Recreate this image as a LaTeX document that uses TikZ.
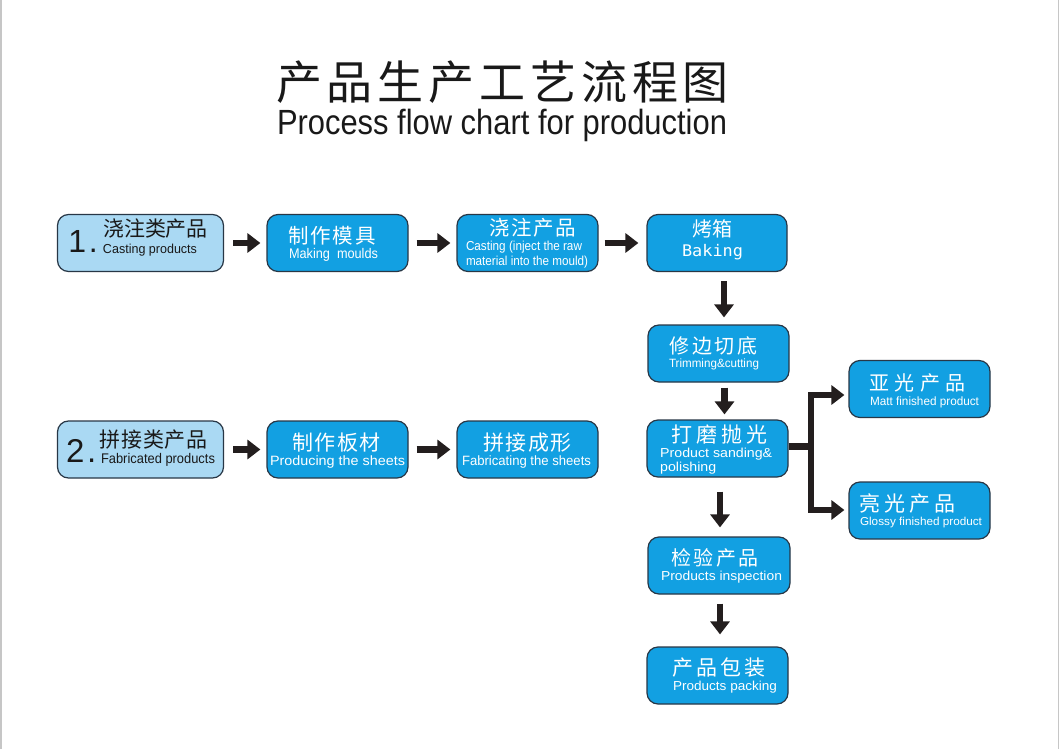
\documentclass[tikz,border=0pt]{standalone}
\usepackage{fontspec}
\usepackage{graphicx}
\usetikzlibrary{arrows.meta}
\newfontfamily\cjk{Noto Sans CJK SC}
\newfontfamily\ar{Liberation Sans}
\newfontfamily\mo{DejaVu Sans Mono}
\definecolor{boxblue}{RGB}{18,160,226}
\definecolor{lightblue}{RGB}{170,217,243}
\definecolor{edge}{RGB}{40,55,70}
\definecolor{arrowc}{RGB}{35,30,30}
\definecolor{ink}{RGB}{25,25,25}
\newcommand\g{\hskip 0pt plus 1fil minus 1fil}
\newcommand\zh[3]{\makebox[#1][s]{\cjk\fontsize{#2}{#2}\selectfont #3}}
\newcommand\en[3]{\resizebox{#1}{\height}{\ar\fontsize{#2}{#2}\selectfont #3}}
\begin{document}
\begin{tikzpicture}[x=1pt,y=-1pt,
 box/.style={draw=edge, line width=1.2pt, rounded corners=11pt, fill=boxblue, minimum width=141pt, minimum height=57pt, inner sep=0pt},
 lbox/.style={box, fill=lightblue, minimum width=166pt},
 txt/.style={inner sep=0pt, anchor=base, text=white},
 dtxt/.style={txt, text=ink},
 arr/.style={draw=arrowc, line width=6.5pt, -{Triangle[length=13pt,width=19pt]}},
 shaft/.style={draw=arrowc, line width=6.5pt}]
\useasboundingbox (0,0) rectangle (1060,749);
\fill[white] (0,0) rectangle (1060,749);
\draw[gray!45, line width=1.5pt] (0.75,0) -- (0.75,749);
\draw[gray!45, line width=1.5pt] (1058.5,0) -- (1058.5,749);

% titles
\node[dtxt] (title) at (502.5,99.8) {\zh{452.7pt}{46}{产\g 品\g 生\g 产\g 工\g 艺\g 流\g 程\g 图}};
\node[dtxt] (subtitle) at (502,135) {\en{450pt}{35}{Process flow chart for production}};

% boxes
\node[lbox] (c1) at (140.5,243) {};
\node[box] (c2) at (337.5,243) {};
\node[box] (c3) at (527.5,243) {};
\node[box, minimum width=140pt] (c4) at (717,243) {};
\node[box] (trim) at (718.5,353.5) {};
\node[box] (sand) at (717.5,448.5) {};
\node[box, minimum width=142pt] (insp) at (719,565.5) {};
\node[box] (pack) at (717.5,675.5) {};
\node[box] (matt) at (919.5,389) {};
\node[box] (glos) at (919.5,510.5) {};
\node[lbox] (f1) at (140.5,449.5) {};
\node[box] (f2) at (337.5,449.5) {};
\node[box] (f3) at (527.5,449.5) {};

% row 1 texts
\node[dtxt, anchor=base west] (c1n) at (68.2,252.5) {\ar\fontsize{32}{32}\selectfont 1\kern2.7pt.};
\node[dtxt] (c1a) at (155.5,236.5) {\zh{104.7pt}{21}{浇\g 注\g 类\g 产\g 品}};
\node[dtxt] (c1b) at (150,253.3) {\en{94pt}{13}{Casting products}};
\node[txt] (c2a) at (332,243.8) {\zh{87.7pt}{20.5}{制\g 作\g 模\g 具}};
\node[txt] (c2b) at (333.5,258.3) {\en{89pt}{14}{Making~ moulds}};
\node[txt] (c3a) at (532.5,235.5) {\zh{86.7pt}{20.5}{浇\g 注\g 产\g 品}};
\node[txt] (c3b) at (524,250.8) {\en{116pt}{13}{Casting (inject the raw}};
\node[txt] (c3c) at (527,265) {\en{122pt}{13}{material into the mould)}};
\node[txt] (c4a) at (712.5,236.6) {\zh{40.6pt}{20}{烤\g 箱}};
\node[txt] (c4b) at (712.5,256) {\resizebox{61pt}{\height}{\mo\fontsize{16}{16}\selectfont Baking}};

% column texts
\node[txt] (trima) at (713.5,353.6) {\zh{88.6pt}{20}{修\g 边\g 切\g 底}};
\node[txt] (trimb) at (714,367.6) {\en{90pt}{12}{Trimming\&cutting}};
\node[txt] (sanda) at (719.5,442.5) {\zh{96.7pt}{21}{打\g 磨\g 抛\g 光}};
\node[txt, anchor=base west] (sandb) at (660,457.5) {\en{112pt}{13}{Product sanding\&}};
\node[txt, anchor=base west] (sandc) at (660,471.5) {\en{56pt}{13}{polishing}};
\node[txt] (inspa) at (715,565.6) {\zh{87.6pt}{20}{检\g 验\g 产\g 品}};
\node[txt] (inspb) at (721.5,580) {\en{121pt}{13}{Products inspection}};
\node[txt] (packa) at (719,675.5) {\zh{93.7pt}{21}{产\g 品\g 包\g 装}};
\node[txt] (packb) at (725,690) {\en{104pt}{13}{Products packing}};
\node[txt] (matta) at (917.5,390.6) {\zh{96.6pt}{20}{亚\g 光\g 产\g 品}};
\node[txt] (mattb) at (924.5,405.5) {\en{109pt}{12}{Matt finished product}};
\node[txt] (glosa) at (907.5,511.5) {\zh{96.7pt}{21}{亮\g 光\g 产\g 品}};
\node[txt] (glosb) at (921,525.5) {\en{122pt}{11.5}{Glossy finished product}};

% row 2 texts
\node[dtxt, anchor=base west] (f1n) at (66,462) {\ar\fontsize{33}{33}\selectfont 2\kern2.7pt.};
\node[dtxt] (f1a) at (153.7,447.5) {\zh{107.7pt}{21}{拼\g 接\g 类\g 产\g 品}};
\node[dtxt] (f1b) at (158,463.7) {\en{114pt}{14}{Fabricated products}};
\node[txt] (f2a) at (336.5,450.5) {\zh{88.7pt}{21}{制\g 作\g 板\g 材}};
\node[txt] (f2b) at (337.5,465) {\en{135pt}{13.5}{Producing the sheets}};
\node[txt] (f3a) at (527.5,450.5) {\zh{88.7pt}{21}{拼\g 接\g 成\g 形}};
\node[txt] (f3b) at (526.5,465) {\en{129pt}{13.5}{Fabricating the sheets}};

% arrows row 1
\draw[arr, shorten <=9pt, shorten >=6pt] (c1) -- (c2);
\draw[arr, shorten <=8pt, shorten >=6pt] (c2) -- (c3);
\draw[arr, shorten <=6pt, shorten >=8pt] (c3) -- (c4);
% arrows row 2
\draw[arr, shorten <=9pt, shorten >=6pt] (f1) -- (f2);
\draw[arr, shorten <=8pt, shorten >=6pt] (f2) -- (f3);
% vertical arrows
\draw[arr, shorten <=9pt, shorten >=7pt] ([xshift=7pt]c4.south) -- ([xshift=7pt]c4.south |- trim.north);
\draw[arr, shorten <=5pt, shorten >=5pt] ([xshift=6pt]trim.south) -- ([xshift=6pt]trim.south |- sand.north);
\draw[arr, shorten <=14pt, shorten >=9pt] ([xshift=2.5pt]sand.south) -- ([xshift=2.5pt]sand.south |- insp.north);
\draw[arr, shorten <=9pt, shorten >=12pt] ([xshift=1pt]insp.south) -- ([xshift=1pt]insp.south |- pack.north);
% branch
\coordinate (bt) at (811,395);
\coordinate (bb) at (811,510);
\draw[shaft] ([yshift=2pt]sand.east) -- ([yshift=2pt]sand.east -| bt);
\draw[arr, line join=miter, shorten >=4pt] (bb) -- (bt) -- (bt -| matt.west);
\draw[arr, line join=miter, shorten >=4pt] (bt) -- (bb) -- (bb -| glos.west);
\end{tikzpicture}
\end{document}
